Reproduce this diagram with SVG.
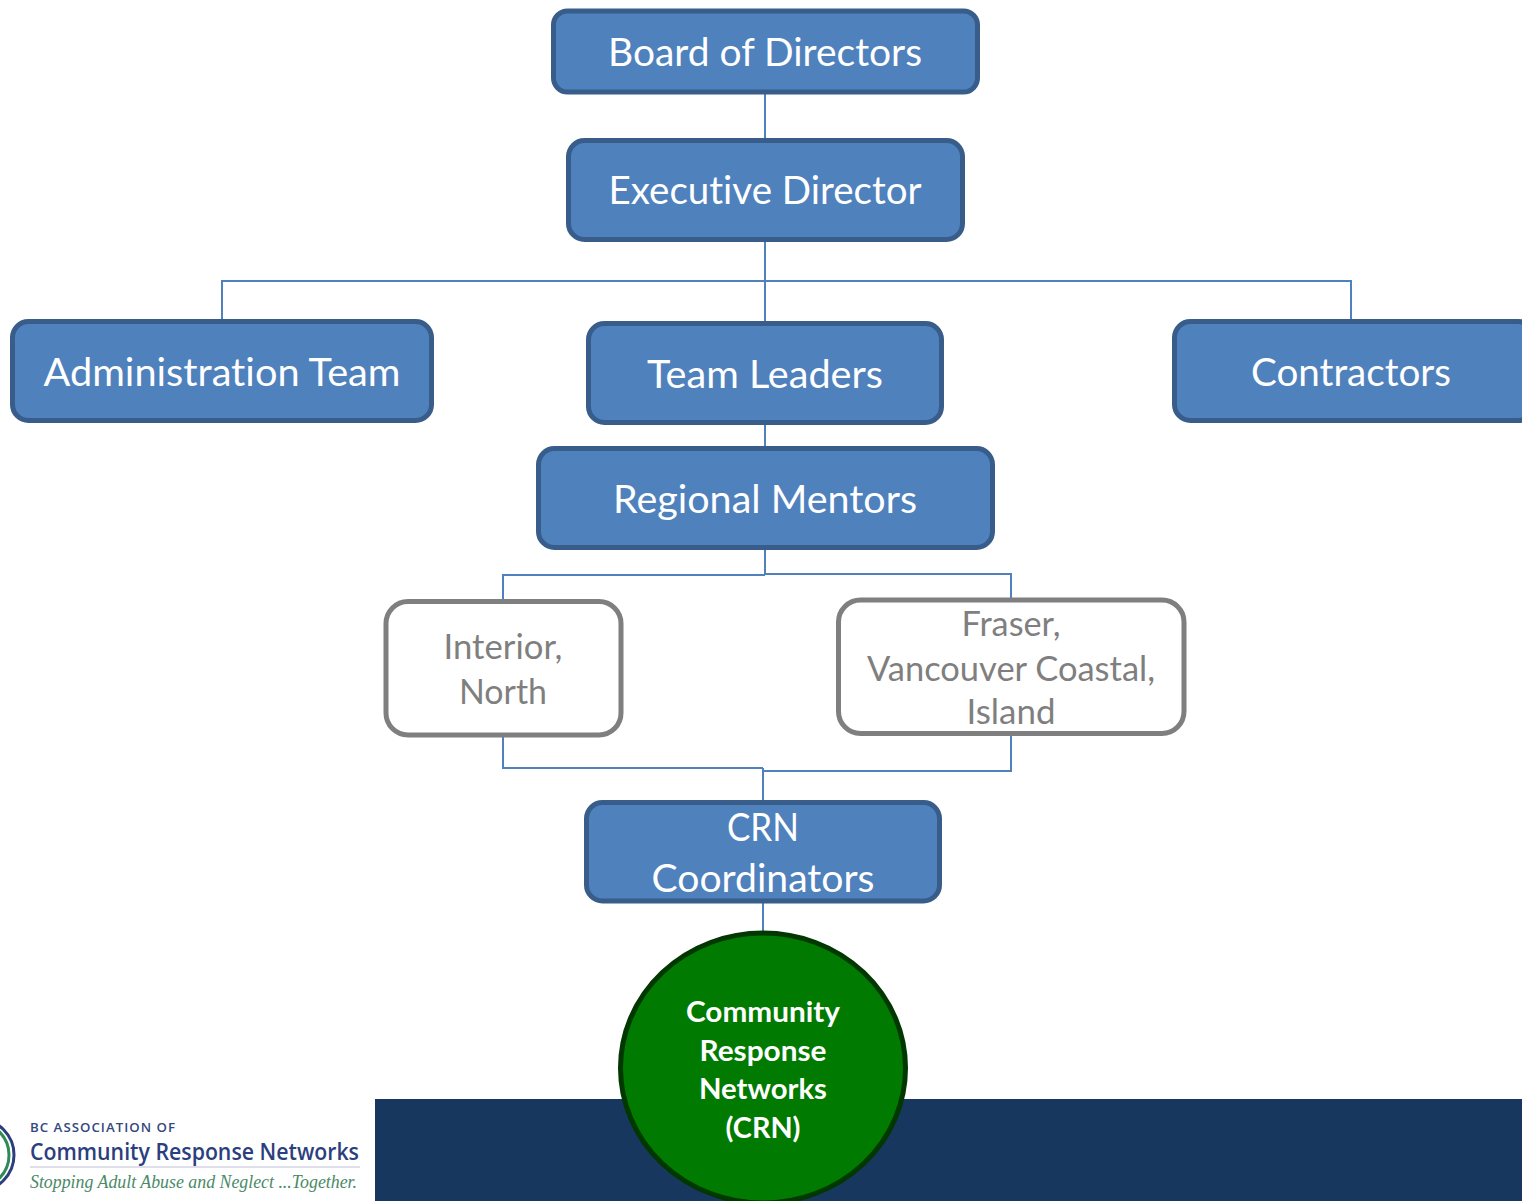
<svg xmlns="http://www.w3.org/2000/svg" width="1522" height="1201" viewBox="0 0 1522 1201">
<style>
.b{fill:#4f81bd;stroke:#385d8a;stroke-width:5}
.g{fill:#fff;stroke:#7f7f7f;stroke-width:5}
.c{fill:none;stroke:#4f81bd;stroke-width:2}
text{font-family:Lato,"Liberation Sans",sans-serif;text-anchor:middle;font-variant-ligatures:none}
.w{fill:#fff;font-size:38px}
.t{fill:#7f7f7f;font-size:35px}
.s{fill:#fff;font-size:29px;font-weight:700}
.l{text-anchor:start}
</style>
<rect width="1522" height="1201" fill="#fff"/>
<rect id="band" x="375" y="1099" width="1147" height="102" fill="#17375e"/>
<g id="connectors">
<path class="c" d="M765 92V141M765 238V324M222 322V281H1351V322M765 422V449M765 547V574M503 601V575H765M765 574H1011V600M503 735V768H763M1011 733V771H763M763 768V802M763 901V933"/>
</g>
<g id="board"><rect class="b" x="553.500" y="11" width="424" height="81" rx="14"/><text class="w" x="765" y="66" textLength="314" lengthAdjust="spacingAndGlyphs">Board of Directors</text></g>
<g id="executive"><rect class="b" x="568.500" y="140.500" width="394" height="99" rx="16"/><text class="w" x="765" y="204" textLength="313" lengthAdjust="spacingAndGlyphs">Executive Director</text></g>
<g id="admin"><rect class="b" x="12.500" y="321.500" width="419" height="99" rx="16"/><text class="w" x="222" y="386" textLength="357" lengthAdjust="spacingAndGlyphs">Administration Team</text></g>
<g id="leaders"><rect class="b" x="588.500" y="323.500" width="353" height="99" rx="16"/><text class="w" x="765" y="388" textLength="236" lengthAdjust="spacingAndGlyphs">Team Leaders</text></g>
<g id="contractors"><rect class="b" x="1174.500" y="321.500" width="360" height="99" rx="16"/><text class="w" x="1351" y="386" textLength="200" lengthAdjust="spacingAndGlyphs">Contractors</text></g>
<g id="mentors"><rect class="b" x="538.500" y="448.500" width="454" height="99" rx="16"/><text class="w" x="765" y="513" textLength="304" lengthAdjust="spacingAndGlyphs">Regional Mentors</text></g>
<g id="interior"><rect class="g" x="386" y="601.500" width="235" height="133.500" rx="22"/><text class="t" x="503" y="659" textLength="119" lengthAdjust="spacingAndGlyphs">Interior,</text><text class="t" x="503" y="704" textLength="88" lengthAdjust="spacingAndGlyphs">North</text></g>
<g id="fraser"><rect class="g" x="838.500" y="600" width="345.500" height="133.500" rx="22"/><text class="t" x="1011" y="636" textLength="99" lengthAdjust="spacingAndGlyphs">Fraser,</text><text class="t" x="1011" y="681" textLength="288" lengthAdjust="spacingAndGlyphs">Vancouver Coastal,</text><text class="t" x="1011" y="724" textLength="89" lengthAdjust="spacingAndGlyphs">Island</text></g>
<g id="coordinators"><rect class="b" x="586.500" y="802.500" width="353" height="98.500" rx="16"/><text class="w" x="763" y="841" textLength="72" lengthAdjust="spacingAndGlyphs">CRN</text><text class="w" x="763" y="892" textLength="223" lengthAdjust="spacingAndGlyphs">Coordinators</text></g>
<g id="crn"><ellipse cx="763" cy="1068" rx="142.500" ry="135" fill="#007a00" stroke="#003800" stroke-width="5"/><text class="s" x="763" y="1022" textLength="154" lengthAdjust="spacingAndGlyphs">Community</text><text class="s" x="763" y="1061" textLength="127" lengthAdjust="spacingAndGlyphs">Response</text><text class="s" x="763" y="1099" textLength="128" lengthAdjust="spacingAndGlyphs">Networks</text><text class="s" x="763" y="1138" textLength="75" lengthAdjust="spacingAndGlyphs">(CRN)</text></g>
<g id="logo">
<ellipse cx="-22" cy="1155" rx="36" ry="36" fill="none" stroke="#2b3f7e" stroke-width="3"/>
<ellipse cx="-22" cy="1155" rx="31" ry="32" fill="none" stroke="#2e8b57" stroke-width="3"/>
<text class="l" x="30" y="1132" font-size="13" font-weight="600" fill="#34477f" letter-spacing="1" style="font-family:'Open Sans',sans-serif" textLength="146" lengthAdjust="spacingAndGlyphs">BC ASSOCIATION OF</text>
<text class="l" x="30" y="1160" font-size="23" font-weight="600" fill="#2b3f7e" style="font-family:'Open Sans',sans-serif" textLength="329" lengthAdjust="spacingAndGlyphs">Community Response Networks</text>
<line x1="30" y1="1167" x2="360" y2="1167" stroke="#d5d5e5" stroke-width="1.500"/>
<text class="l" x="30" y="1188" font-size="18" font-style="italic" fill="#4a8a68" style="font-family:'Liberation Serif',serif" textLength="327" lengthAdjust="spacingAndGlyphs">Stopping Adult Abuse and Neglect ...Together.</text>
</g>
</svg>
